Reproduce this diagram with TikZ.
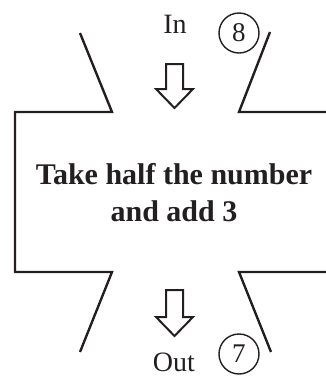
\documentclass[tikz,border=0pt]{standalone}
\usepackage{fontspec}
\setmainfont{Liberation Serif}
\usetikzlibrary{positioning}
\definecolor{ink}{RGB}{35,31,32}

\begin{document}
\begin{tikzpicture}[x=1pt,y=-1pt,
  edge/.style={draw=ink,line width=2.4pt,line join=miter},
  word/.style={text=ink,font=\fontsize{28}{28}\selectfont,inner sep=0pt},
  num/.style={draw=ink,circle,line width=1.4pt,minimum size=40pt,inner sep=0pt,text=ink,font=\fontsize{27}{27}\selectfont},
  task/.style={text=ink,align=center,font=\bfseries\fontsize{30}{37}\selectfont,inner sep=0pt}]
\useasboundingbox (0,0) rectangle (326,376);
\node[word,anchor=base] (in) at (175,33) {In};
\node[num] (eight) at (239,33) {8};
\node[task] (rule) at (174,193) {Take half the number\\and add 3};
\node[word,anchor=base] (out) at (174,371) {Out};
\node[num] (seven) at (239,354) {7};
\draw[edge] (80,33) -- (112,112) -- (15,112) -- (15,272) -- (112,272) -- (80,352);
\draw[edge] (270,32) -- (239,112) -- (330,112);
\draw[edge] (330,272) -- (239,272) -- (271,352);
\foreach \y/\h in {64/25,290/27}
  \draw[ink,line width=2pt] (166,\y) -- (183,\y) -- (183,\y+\h) -- (193,\y+\h) -- (174.5,\y+\h+19) -- (156,\y+\h) -- (166,\y+\h) -- cycle;
\end{tikzpicture}
\end{document}
